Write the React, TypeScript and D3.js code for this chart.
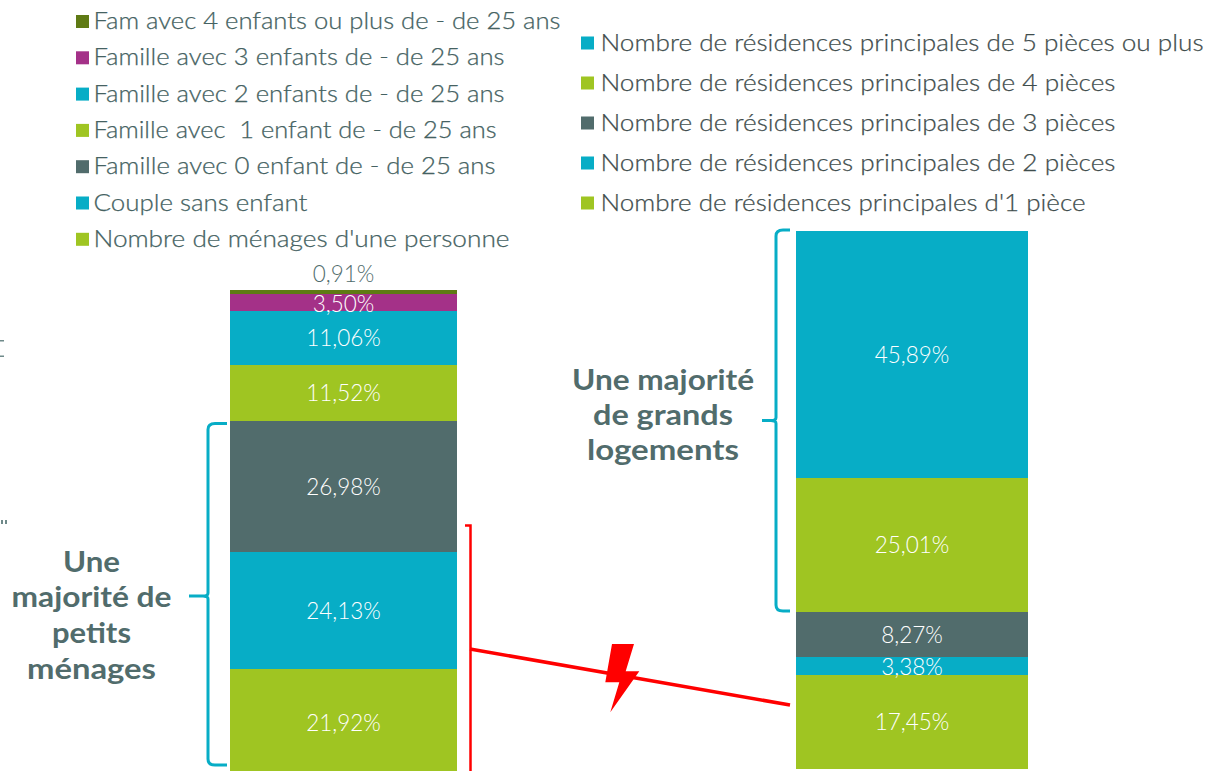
import React from "react";
import * as d3 from "d3";

const leftLabels = ["21,92%", "24,13%", "26,98%", "11,52%", "11,06%", "3,50%", "0,91%"];
const leftValues = [21.92, 24.13, 26.98, 11.52, 11.06, 3.5, 0.91];
const leftColors = ["#9FC522", "#07ADC6", "#516C6C", "#9FC522", "#07ADC6", "#A43188", "#5F7A14"];
const rightLabels = ["17,45%", "3,38%", "8,27%", "25,01%", "45,89%"];
const rightValues = [17.45, 3.38, 8.27, 25.01, 45.89];
const rightColors = ["#9FC522", "#07ADC6", "#516C6C", "#9FC522", "#07ADC6"];

const leftLegend = [
  "Fam avec 4 enfants ou plus de - de 25 ans",
  "Famille avec 3 enfants de - de 25 ans",
  "Famille avec 2 enfants de - de 25 ans",
  "Famille avec  1 enfant de - de 25 ans",
  "Famille avec 0 enfant de - de 25 ans",
  "Couple sans enfant",
  "Nombre de ménages d'une personne",
];
const leftLegendWidths = [467, 411, 411, 403, 402, 214, 416];
const rightLegend = [
  "Nombre de résidences principales de 5 pièces ou plus",
  "Nombre de résidences principales de 4 pièces",
  "Nombre de résidences principales de 3 pièces",
  "Nombre de résidences principales de 2 pièces",
  "Nombre de résidences principales d'1 pièce",
];
const rightLegendWidths = [603, 515, 515, 515, 485];
const leftNote = ["Une", "majorité de", "petits", "ménages"];
const leftNoteWidths = [57, 160, 79, 129];
const rightNote = ["Une majorité", "de grands", "logements"];
const rightNoteWidths = [182, 140, 152];

const FONT = "Lato, 'Open Sans', sans-serif";
const TXT = "#516C6C";
const TEAL = "#07ADC6";

function Stack({ values, labels, colors, x, w, y0, y100 }: any) {
  const y = d3.scaleLinear().domain([0, 100]).range([y0, y100]);
  const stack = d3.stack().keys(values.map((_: number, i: number) => String(i)))([
    Object.fromEntries(values.map((v: number, i: number) => [String(i), v])),
  ] as any);
  return (
    <g>
      {stack.map((s: any, i: number) => {
        const a = Math.round(y(s[0][0]));
        const b = Math.round(y(s[0][1]));
        const outside = values[i] < 1;
        return (
          <g key={i}>
            <rect x={x} y={b} width={w} height={a - b} fill={colors[i]} />
            <text
              x={x + w / 2}
              y={outside ? b - 8.5 : (a + b) / 2 + (values[i] < 4 ? 1 : 0) + 8}
              fill={outside ? TXT : "#fff"}
              fontSize={22.5}
              fontWeight={300}
              fontFamily={FONT}
              textAnchor="middle"
            >
              {labels[i]}
            </text>
          </g>
        );
      })}
    </g>
  );
}

function brace(xTip: number, xSpine: number, xEnd: number, top: number, mid: number, bottom: number) {
  return `M${xEnd} ${top} L${xSpine + 7} ${top} Q${xSpine} ${top} ${xSpine} ${top + 6} L${xSpine} ${mid - 3} Q${xSpine} ${mid} ${xSpine - 5} ${mid} L${xTip} ${mid} L${xSpine - 5} ${mid} Q${xSpine} ${mid} ${xSpine} ${mid + 3} L${xSpine} ${bottom - 6} Q${xSpine} ${bottom} ${xSpine + 7} ${bottom} L${xEnd} ${bottom}`;
}

export default function App() {
  return (
    <svg
      width={1206}
      height={771}
      viewBox="0 0 1206 771"
      style={{ position: "fixed", left: 0, top: 0, display: "block", background: "#fff" }}
    >
      {leftLegend.map((t, i) => {
        const cy = 21.5 + i * 36.3;
        return (
          <g key={t}>
            <rect x={76} y={cy - 6.5} width={13} height={13} fill={[...leftColors].reverse()[i]} />
            <text x={93.5} y={cy + 7.5} fontSize={23} fontWeight={300} fontFamily={FONT} fill="#456262" stroke="#456262" strokeWidth={0.25} textLength={leftLegendWidths[i]} lengthAdjust="spacingAndGlyphs" xmlSpace="preserve">
              {t}
            </text>
          </g>
        );
      })}
      {rightLegend.map((t, i) => {
        const cy = 43 + i * 40;
        return (
          <g key={t}>
            <rect x={581} y={cy - 6.5} width={13} height={13} fill={[...rightColors].reverse()[i]} />
            <text x={600.5} y={cy + 8} fontSize={24} fontWeight={300} fontFamily={FONT} fill="#3F4D4D" stroke="#3F4D4D" strokeWidth={0.25} textLength={rightLegendWidths[i]} lengthAdjust="spacingAndGlyphs">
              {t}
            </text>
          </g>
        );
      })}

      <Stack values={leftValues} labels={leftLabels} colors={leftColors} x={230} w={227} y0={776} y100={290} />
      <Stack values={rightValues} labels={rightLabels} colors={rightColors} x={796} w={232} y0={768.5} y100={231} />

      <path d={brace(189, 208, 227, 423.5, 596, 765)} fill="none" stroke={TEAL} strokeWidth={3} />
      <path d={brace(762, 776, 790, 230, 420.5, 611)} fill="none" stroke={TEAL} strokeWidth={3} />

      <path d="M465 525.5 L470.5 525.5 L470.5 771" fill="none" stroke="#FF0000" strokeWidth={2.5} />
      <path d="M470 649 L790 705" fill="none" stroke="#FF0000" strokeWidth={3.5} />
      <path d="M612 644 L634 644 L625.7 671.3 L639.3 671.3 L610.3 712.3 L619.3 682.3 L605.3 682.3 Z" fill="#FF0000" />

      {leftNote.map((t, i) => (
        <text key={t} x={91.5} y={571.5 + i * 35.7} textAnchor="middle" fontSize={29} fontWeight={700} fontFamily={FONT} fill={TXT} textLength={leftNoteWidths[i]} lengthAdjust="spacingAndGlyphs">{t}</text>
      ))}
      {rightNote.map((t, i) => (
        <text key={t} x={663} y={390 + i * 35} textAnchor="middle" fontSize={29} fontWeight={700} fontFamily={FONT} fill={TXT} textLength={rightNoteWidths[i]} lengthAdjust="spacingAndGlyphs">{t}</text>
      ))}

      <g fill="#6F8A8A">
        <rect x={0} y={340} width={4} height={1.5} />
        <rect x={0} y={355.5} width={4} height={1.5} />
        <rect x={1} y={520} width={2} height={4} />
        <rect x={5} y={520} width={2} height={4} />
      </g>
    </svg>
  );
}
